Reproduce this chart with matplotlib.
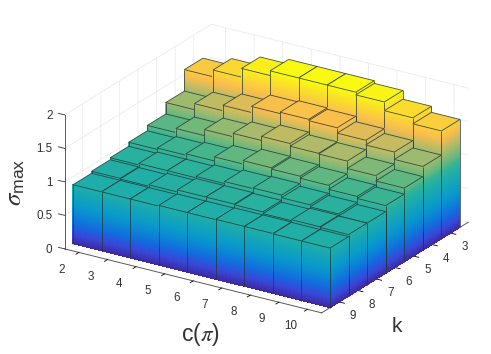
"""Bar surface of sigma_max over c(pi) and k, with height-graded faces."""

import matplotlib
matplotlib.use("Agg")
import matplotlib.pyplot as plt
import numpy as np
from matplotlib.colors import LinearSegmentedColormap
from mpl_toolkits.mplot3d import proj3d
from mpl_toolkits.mplot3d.art3d import Line3DCollection, Poly3DCollection

c_values = [2, 3, 4, 5, 6, 7, 8, 9, 10]
k_values = [3, 4, 5, 6, 7, 8, 9]

# one row per k, one column per c
sigma_k3 = [1.57, 1.67, 1.80, 1.87, 1.87, 1.87, 1.83, 1.70, 1.61]
sigma_k4 = [1.25, 1.34, 1.42, 1.51, 1.53, 1.51, 1.43, 1.36, 1.25]
sigma_k5 = [1.08, 1.14, 1.23, 1.28, 1.34, 1.30, 1.29, 1.18, 1.10]
sigma_k6 = [1.00, 1.02, 1.04, 1.10, 1.15, 1.13, 1.10, 1.04, 1.01]
sigma_k7 = [0.94, 0.96, 0.96, 0.98, 1.01, 1.02, 0.98, 0.95, 0.92]
sigma_k8 = [0.91, 0.90, 0.92, 0.95, 0.95, 0.94, 0.915, 0.93, 0.92]
sigma_k9 = [0.88, 0.88, 0.88, 0.89, 0.89, 0.895, 0.895, 0.89, 0.89]
sigma_rows = [sigma_k3, sigma_k4, sigma_k5, sigma_k6, sigma_k7, sigma_k8, sigma_k9]

z_ticks = [0, 0.5, 1, 1.5, 2]
z_tick_labels = ["0", "0.5", "1", "1.5", "2"]

COLOR_TOP = 1.88
STRIP = 0.03

plt.rcParams["font.family"] = ["Liberation Sans", "DejaVu Sans"]
plt.rcParams["mathtext.fontset"] = "stix"

parula = LinearSegmentedColormap.from_list("parula_like", [
    (0.00, (0.24, 0.15, 0.62)),
    (0.08, (0.22, 0.28, 0.85)),
    (0.16, (0.07, 0.42, 0.87)),
    (0.30, (0.03, 0.60, 0.80)),
    (0.47, (0.12, 0.68, 0.66)),
    (0.53, (0.20, 0.70, 0.59)),
    (0.585, (0.38, 0.72, 0.50)),
    (0.675, (0.64, 0.73, 0.43)),
    (0.80, (0.98, 0.74, 0.30)),
    (1.00, (0.98, 0.98, 0.06)),
])


def _shade(z):
    return parula(min(z / COLOR_TOP, 1.0))


def _draw_bar(ax, c, k, h, order):
    x0, x1 = c - 0.5, c + 0.5
    y0, y1 = k - 0.5, k + 0.5
    levels = np.append(np.arange(0, h, STRIP), h)

    polys, colors = [], []
    for lo, hi in zip(levels[:-1], levels[1:]):
        polys.append([(x0, y1, lo), (x1, y1, lo), (x1, y1, hi), (x0, y1, hi)])
        polys.append([(x1, y1, lo), (x1, y0, lo), (x1, y0, hi), (x1, y1, hi)])
        colors += [_shade((lo + hi) / 2)] * 2
    sides = Poly3DCollection(polys, facecolors=colors, edgecolors="none",
                             linewidths=0, antialiased=False)
    sides.set_zorder(order)
    sides.set_clip_on(False)
    ax.add_collection3d(sides)

    top = Poly3DCollection([[(x0, y0, h), (x1, y0, h), (x1, y1, h), (x0, y1, h)]],
                           facecolors=[_shade(h)], edgecolors="none", linewidths=0)
    top.set_zorder(order + 0.1)
    top.set_clip_on(False)
    ax.add_collection3d(top)

    segs = [
        [(x0, y0, h), (x1, y0, h)], [(x1, y0, h), (x1, y1, h)],
        [(x1, y1, h), (x0, y1, h)], [(x0, y1, h), (x0, y0, h)],
        [(x0, y1, 0), (x0, y1, h)], [(x1, y1, 0), (x1, y1, h)],
        [(x1, y0, 0), (x1, y0, h)],
    ]
    edges = Line3DCollection(segs, colors=[(0.13, 0.22, 0.22, 0.85)], linewidths=0.6)
    edges.set_zorder(order + 0.2)
    edges.set_clip_on(False)
    ax.add_collection3d(edges)


def _tick_text(ax, x, y, z, text):
    """Label a point given in data units; placed in 2D so the offset stays put."""
    xp, yp, _ = proj3d.proj_transform(x, y, z, ax.get_proj())
    ax.text2D(xp, yp, text, transform=ax.transData, fontsize=8.4, color="0.2",
              ha="center", va="center", clip_on=False)


fig = plt.figure(figsize=(4.91, 3.54), dpi=100)
ax = fig.add_axes([84.7 / 491, 3.7 / 354, 354 / 491, 1.0], projection="3d",
                  proj_type="ortho", computed_zorder=False)
ax.view_init(elev=23.1, azim=-57.6)
ax.set_box_aspect((304.4, 273.8, 145.7), zoom=1.1917)

order = 1
for k, row in zip(k_values, sigma_rows):
    for c, h in zip(c_values, row):
        _draw_bar(ax, c, k, h, order)
        order += 1

ax.set_xlim(1.5, 10.5, view_margin=0)
ax.set_ylim(9.95, 2.05, view_margin=0)
ax.set_zlim(0, 2, view_margin=0)
ax.set_xticks(c_values)
ax.set_yticks(k_values)
ax.set_zticks(z_ticks, z_tick_labels)
ax.zaxis.set_ticks_position("upper")
ax.xaxis.set_tick_params(label1On=False)
ax.yaxis.set_tick_params(label1On=False)

for axis in (ax.xaxis, ax.yaxis, ax.zaxis):
    axis.set_pane_color((1, 1, 1, 0))
    axis.pane.set_edgecolor((1, 1, 1, 0))
    axis.line.set_color("0.35")
    axis.line.set_linewidth(0.7)
    axis._axinfo["grid"].update(color="0.92", linewidth=0.6)
    axis._axinfo["tick"].update(inward_factor=0.25, outward_factor=0.0,
                                linewidth={True: 0.6, False: 0.6})
ax.zaxis._axinfo["tick"].update(inward_factor=0.0, outward_factor=0.3)
ax.tick_params(axis="z", labelsize=8.4, colors="0.2", pad=-4)
for label in ax.get_zticklabels():
    label.set_ha("right")
    label.set_va("center")

for c in c_values:
    _tick_text(ax, c, 10.86, -0.10, str(c))
for k in k_values:
    _tick_text(ax, 10.98, k, -0.16, str(k))

fig.text(200 / 491, 1 - 334 / 354, r"c($\pi$)", fontsize=16.5, color="0.2",
         ha="center", va="center")
fig.text(397 / 491, 1 - 327 / 354, "k", fontsize=15, color="0.2",
         ha="center", va="center")
fig.text(15 / 491, 1 - 182 / 354, r"$\sigma_{\mathregular{max}}$", fontsize=18,
         color="0.2", rotation=90, ha="center", va="center")

fig.savefig("out.png", dpi=100)
